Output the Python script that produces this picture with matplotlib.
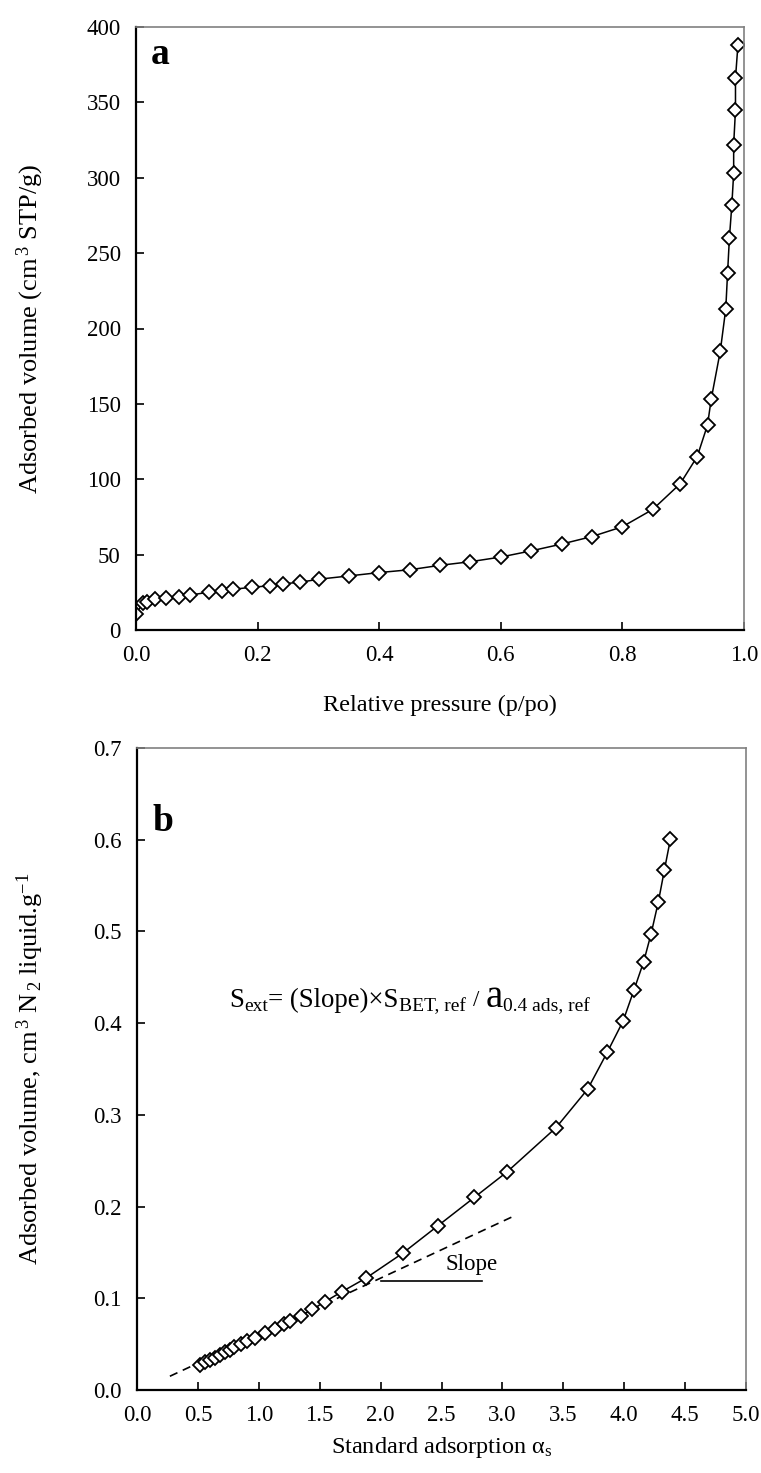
import matplotlib
matplotlib.use("Agg")
import matplotlib.pyplot as plt

# ---------------- data ----------------
# Panel a: N2 adsorption isotherm
p_rel = [0.0, 0.011, 0.018, 0.031, 0.049, 0.070, 0.088, 0.120, 0.141, 0.160,
         0.191, 0.220, 0.241, 0.270, 0.301, 0.351, 0.400, 0.451, 0.500, 0.550,
         0.600, 0.650, 0.700, 0.750, 0.800, 0.850, 0.895, 0.923, 0.940, 0.946,
         0.961, 0.970, 0.973, 0.976, 0.980, 0.983, 0.983, 0.986, 0.986, 0.990]
v_ads = [10.6, 17.6, 18.5, 20.5, 21.1, 22.0, 23.1, 25.1, 26.2, 27.0,
         28.4, 29.3, 30.6, 31.7, 33.7, 35.9, 38.1, 40.0, 42.9, 45.3,
         48.4, 52.5, 57.0, 62.0, 68.5, 80.0, 97.0, 115.0, 136.0, 153.0,
         185.0, 213.0, 237.0, 260.0, 282.0, 303.0, 322.0, 345.0, 366.0, 388.0]

# Panel b: alpha-s plot
alpha_s = [0.52, 0.56, 0.60, 0.64, 0.68, 0.72, 0.76, 0.80, 0.85, 0.90,
           0.97, 1.05, 1.13, 1.21, 1.26, 1.35, 1.44, 1.54, 1.68, 1.88,
           2.18, 2.47, 2.77, 3.04, 3.44, 3.70, 3.86, 3.99, 4.08, 4.16,
           4.22, 4.28, 4.33, 4.38]
v_liq = [0.027, 0.030, 0.033, 0.035, 0.038, 0.041, 0.044, 0.047, 0.050, 0.053,
         0.057, 0.062, 0.067, 0.072, 0.075, 0.081, 0.088, 0.096, 0.107, 0.122,
         0.149, 0.179, 0.210, 0.238, 0.286, 0.328, 0.368, 0.402, 0.436, 0.467,
         0.497, 0.532, 0.567, 0.601]

slope_x = [0.27, 3.10]
slope_y = [0.015, 0.190]
base_x = [2.00, 2.83]
base_y = [0.119, 0.119]

xticks_a = [0.0, 0.2, 0.4, 0.6, 0.8, 1.0]
yticks_a = [0, 50, 100, 150, 200, 250, 300, 350, 400]
xticks_b = [0.0, 0.5, 1.0, 1.5, 2.0, 2.5, 3.0, 3.5, 4.0, 4.5, 5.0]
yticks_b = [0.0, 0.1, 0.2, 0.3, 0.4, 0.5, 0.6, 0.7]

# ---------------- style ----------------
SERIF = "Liberation Serif"
plt.rcParams["font.family"] = [SERIF, "DejaVu Serif"]
plt.rcParams["mathtext.fontset"] = "custom"
plt.rcParams["mathtext.rm"] = SERIF
plt.rcParams["mathtext.it"] = SERIF + ":italic"
plt.rcParams["mathtext.bf"] = SERIF + ":bold"

FS = 16.5      # tick labels
FSX = 17.5     # x axis titles
FSY = 19       # y axis titles
W, H = 761, 1473
fig = plt.figure(figsize=(W / 100, H / 100), dpi=100)


def make_axes(left, top, right, bottom):
    return fig.add_axes([left / W, 1 - bottom / H, (right - left) / W, (bottom - top) / H])


def style(ax):
    for s in ("left", "bottom"):
        ax.spines[s].set_color("black")
        ax.spines[s].set_linewidth(1.6)
    for s in ("top", "right"):
        ax.spines[s].set_color("#808080")
        ax.spines[s].set_linewidth(1.2)
    ax.tick_params(direction="in", length=6, width=1.2, top=False, right=False,
                   labelsize=FS)
    ax.tick_params(axis="x", pad=11)
    ax.tick_params(axis="y", pad=11)


mk = dict(marker="D", markersize=7.5, markerfacecolor="white",
          markeredgecolor="black", markeredgewidth=1.3, color="black", lw=1.1)

# ---- panel a ----
axa = make_axes(136, 27, 744, 630)
axa.plot(p_rel, v_ads, **mk)
axa.set_xlim(0, 1.0)
axa.set_ylim(0, 400)
axa.set_xticks(xticks_a)
axa.set_xticklabels([f"{v:.1f}" for v in xticks_a])
axa.set_yticks(yticks_a)
style(axa)
axa.set_xlabel("Relative pressure (p/po)", fontsize=FSX)
axa.xaxis.set_label_coords(0.5, -(705 - 630) / 603)
axa.xaxis.label.set_va("center")
axa.set_ylabel("Adsorbed volume (cm$^{\\,3}$ STP/g)", fontsize=FSY)
axa.yaxis.set_label_coords(-(136 - 30) / 608, 0.5)
axa.yaxis.label.set_va("center")
axa.text(0.025, 0.955, "a", transform=axa.transAxes, fontsize=27,
         fontweight="bold", va="center", ha="left")

# ---- panel b ----
axb = make_axes(137, 748, 746, 1390)
axb.plot(slope_x, slope_y, color="black", lw=1.2, ls=(0, (5, 3.5)))
axb.plot(base_x, base_y, color="black", lw=1.2)
axb.plot(alpha_s, v_liq, **mk)
axb.set_xlim(0, 5.0)
axb.set_ylim(0, 0.7)
axb.set_xticks(xticks_b)
axb.set_xticklabels([f"{v:.1f}" for v in xticks_b])
axb.set_yticks(yticks_b)
axb.set_yticklabels([f"{v:.1f}" for v in yticks_b])
style(axb)
axb.set_xlabel("Standard adsorption \u03b1$_{\\mathrm{s}}$", fontsize=FSX)
axb.xaxis.set_label_coords(0.5, -(1447 - 1390) / 642)
axb.xaxis.label.set_va("center")
axb.set_ylabel(r"Adsorbed volume, cm$^{\,3}$ N$_{\,2}$ liquid.g$^{-1}$", fontsize=FSY)
axb.yaxis.set_label_coords(-(137 - 30) / 609, 0.5)
axb.yaxis.label.set_va("center")
axb.text(0.025, 0.885, "b", transform=axb.transAxes, fontsize=27,
         fontweight="bold", va="center", ha="left")
axb.text(2.75, 0.137, "Slope", fontsize=FS, ha="center", va="center")

# equation S_ext = (Slope) x S_BET,ref / a_0.4 ads,ref
renderer = fig.canvas.get_renderer()
x0, y0 = axb.transData.transform((0.76, 0.418))
pieces = [("S", 19.3, 0), ("ext", 14, -4), ("= (Slope)\u00d7S", 19.3, 0),
          ("BET, ref", 14, -4), (None, 7, 0), ("/", 16.5, 1), (None, 7, 0),
          ("a", 28, 0), ("0.4 ads, ref", 14, -4)]
x = x0
for s, fs, dy in pieces:
    if s is None:
        x += fs
        continue
    t = fig.text(x / W, (y0 + dy) / H, s, fontsize=fs, ha="left", va="baseline")
    bb = t.get_window_extent(renderer)
    x = bb.x1

fig.savefig("out.png", dpi=100, facecolor="white")
